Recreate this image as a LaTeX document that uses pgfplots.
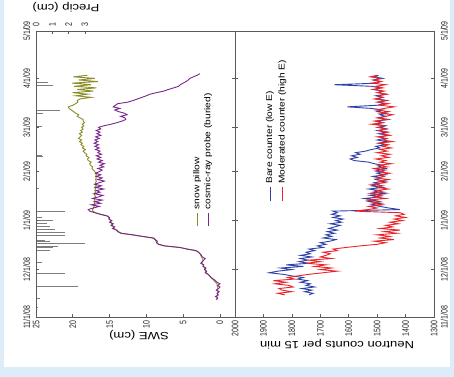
\documentclass[border=0pt]{standalone}
\usepackage{pgfplots}
\pgfplotsset{compat=1.18}
\usepackage{pgfplotstable}
\usepackage{fontspec}
\setmainfont{Liberation Sans}
\newfontfamily\tickfont[FakeStretch=0.74]{Liberation Sans}
\newfontfamily\labfont[FakeStretch=1.25]{Liberation Sans}
\newfontfamily\legfont[FakeStretch=1.2]{Liberation Sans}
\definecolor{bgblue}{RGB}{221,236,249}
\definecolor{swec}{RGB}{122,40,140}
\definecolor{pillow}{RGB}{140,140,40}
\definecolor{bare}{RGB}{45,65,170}
\definecolor{moder}{RGB}{235,35,40}
\definecolor{axgrey}{RGB}{90,90,90}
\definecolor{precipc}{RGB}{125,125,125}

\pgfplotstableread{
d cos pil
11 0.5 0.4
12 0.3 0.4
13 0.6 0.4
14 0.2 0.3
15 0.4 0.3
16 0.1 0.3
17 0.5 0.3
18 0.2 0.3
19 0.0 0.3
20 0.3 0.4
21 0.0 0.4
22 0.4 0.6
23 0.6 0.8
24 0.9 1.0
25 1.2 1.2
26 1.4 1.4
27 1.6 1.6
28 2.0 1.9
29 1.8 2.0
30 2.1 2.0
31 1.9 2.1
32 2.3 2.2
33 2.2 2.3
34 2.6 2.4
35 2.4 2.4
36 2.2 2.4
37 2.0 2.4
38 2.4 2.5
39 2.5 2.6
40 2.7 2.7
41 2.9 2.9
42 3.3 3.2
43 4.5 4.4
44 5.4 5.5
45 7.5 7.6
46 8.3 8.4
47 8.6 8.6
48 8.5 8.7
49 8.8 8.8
50 9.0 9.2
51 10.5 10.6
52 11.8 12.0
53 13.4 13.5
54 13.8 13.9
55 14.0 14.1
56 14.6 14.4
57 14.3 14.5
58 14.8 14.6
59 14.5 14.7
60 15.0 14.8
61 14.7 14.9
62 15.1 15.0
63 15.0 15.1
64 15.4 15.3
65 16.3 16.2
66 17.0 16.9
67 17.7 17.3
68 17.9 17.3
69 17.2 17.2
70 16.4 17.1
71 17.5 17.2
72 16.2 17.0
73 17.0 17.1
74 16.0 17.0
75 17.3 17.1
76 16.5 16.9
77 15.9 17.0
78 17.1 17.1
79 16.3 16.9
80 16.8 17.0
81 15.8 16.9
82 16.9 17.0
83 16.1 16.8
84 17.0 17.0
85 16.4 16.9
86 15.7 16.8
87 16.6 16.9
88 16.0 16.8
89 16.8 16.9
90 16.2 16.8
91 16.9 16.9
92 16.4 17.0
93 16.0 17.2
94 16.6 17.4
95 15.8 17.3
96 16.3 17.6
97 15.7 17.7
98 16.5 17.5
99 16.0 17.9
100 16.7 18.0
101 16.2 17.8
102 16.8 18.2
103 16.1 18.1
104 16.6 18.4
105 16.3 18.6
106 16.9 18.3
107 16.4 18.7
108 17.0 18.5
109 16.5 18.9
110 17.1 18.7
111 16.6 19.1
112 17.0 18.8
113 16.4 19.2
114 16.9 19.0
115 16.2 18.8
116 16.7 19.1
117 16.3 18.7
118 16.8 18.9
119 16.2 18.6
120 16.5 18.8
121 15.8 18.5
122 14.8 18.7
123 14.0 18.4
124 13.3 18.6
125 12.8 18.6
126 12.9 19.0
127 13.5 19.4
128 12.6 19.2
129 13.0 19.6
130 13.8 19.9
131 14.3 20.2
132 13.6 20.5
133 14.5 20.6
134 14.2 20.0
135 13.9 19.6
136 12.5 19.3
137 11.8 19.4
138 11.2 19.0
139 10.6 17.5
140 10.0 19.6
141 9.5 18.0
142 8.6 20.0
143 7.6 17.2
144 7.0 19.4
145 6.3 16.8
146 5.6 19.8
147 5.4 17.5
148 5.0 20.1
149 4.6 16.6
150 4.3 19.2
151 4.1 17.0
152 3.6 19.9
153 3.1 18.0
154 2.7 nan
}\swetable

\pgfplotstableread{
d bare mod
14 1740 1825
15 1725 1850
16 1755 1800
17 1730 1835
18 1765 1845
19 1720 1795
20 1750 1810
21 1735 1860
22 1770 1820
23 1745 1865
24 1780 1790
25 1760 1815
26 1800 1780
27 1830 1740
28 1880 1690
29 1850 1640
30 1800 1700
31 1840 1660
32 1760 1720
33 1820 1680
34 1740 1750
35 1775 1700
36 1745 1740
37 1770 1660
38 1730 1700
39 1770 1680
40 1735 1665
41 1750 1690
42 1720 1640
43 1740 1655
44 1690 1610
45 1710 1560
46 1680 1500
47 1700 1470
48 1665 1510
49 1645 1440
50 1690 1490
51 1660 1455
52 1680 1500
53 1650 1430
54 1675 1475
55 1640 1420
56 1670 1490
57 1650 1445
58 1630 1470
59 1665 1425
60 1625 1455
61 1645 1410
62 1620 1440
63 1655 1400
64 1630 1435
65 1660 1405
66 1640 1420
67 1655 1580
68 1420 1530
69 1460 1500
70 1490 1530
71 1520 1480
72 1485 1515
73 1530 1490
74 1500 1540
75 1545 1470
76 1490 1510
77 1525 1485
78 1470 1525
79 1515 1475
80 1490 1505
81 1530 1460
82 1480 1500
83 1520 1480
84 1495 1520
85 1510 1470
86 1470 1495
87 1505 1460
88 1485 1505
89 1515 1475
90 1470 1490
91 1500 1455
92 1480 1500
93 1505 1470
94 1470 1510
95 1495 1465
96 1480 1495
97 1510 1450
98 1530 1490
99 1580 1470
100 1595 1505
101 1570 1460
102 1590 1485
103 1560 1455
104 1575 1500
105 1540 1465
106 1520 1490
107 1490 1450
108 1505 1480
109 1470 1460
110 1495 1495
111 1465 1445
112 1500 1480
113 1475 1465
114 1490 1500
115 1460 1455
116 1495 1485
117 1470 1460
118 1500 1495
119 1465 1470
120 1490 1500
121 1470 1475
122 1505 1520
123 1480 1480
124 1500 1510
125 1460 1465
126 1495 1500
127 1470 1470
128 1490 1445
129 1465 1490
130 1500 1460
131 1480 1505
132 1520 1475
133 1605 1440
134 1500 1490
135 1475 1460
136 1495 1500
137 1465 1470
138 1500 1510
139 1480 1480
140 1505 1495
141 1470 1465
142 1495 1500
143 1485 1475
144 1510 1515
145 1490 1480
146 1520 1505
147 1650 1470
148 1500 1520
149 1490 1485
150 1515 1510
151 1480 1490
152 1510 1525
153 1495 1500
}\neutable

\pgfplotstableread{
d p
6.3 0.12
12.0 0.25
19.6 2.58
27.8 1.78
34.2 0.37
42.4 0.86
43.7 1.04
44.3 1.35
46.2 3.0
47.5 0.86
48.7 0.55
51.3 1.78
53.2 1.78
55.1 1.17
57.0 0.86
58.9 0.67
60.8 1.04
62.7 0.37
66.5 1.78
81.6 0.18
101.3 0.43
102.5 0.37
120.3 0.37
128.5 0.43
130.4 1.47
146.8 1.04
148.1 0.74
}\prectable

\pgfplotsset{
  panel/.style={
    scale only axis, width=199bp, height=286bp, anchor=south west,
    ymin=0, ymax=181,
    ytick={0,30,61,92,120,151,181},
    yticklabels={11/1/08,12/1/08,1/1/09,2/1/09,3/1/09,4/1/09,5/1/09},
    tick align=inside, major tick length=3bp,
    axis line style={axgrey, line width=0.6bp},
    tick style={axgrey, line width=0.6bp},
    ticklabel style={font=\tickfont\fontsize{9.5}{9.5}\selectfont, text=black!85},
    /pgf/number format/assume math mode=true,
    /pgf/number format/1000 sep={},
  }
}

\begin{document}
\begin{tikzpicture}
\path[use as bounding box] (0,0) rectangle (454bp,377bp);
\fill[bgblue] (0,0) rectangle (454bp,377bp);
\fill[white] (4bp,10bp) rectangle (450bp,377bp);

% precipitation (top axis of left panel)
\begin{axis}[panel, at={(36bp,60bp)},
  xmin=0, xmax=12.21,
  axis x line*=top, axis y line=none,
  xtick={0,1,2,3},
  xticklabel style={rotate=90, anchor=west, inner sep=4bp}]
\addplot[xcomb, precipc, line width=1bp] table[x=p, y=d] {\prectable};
\end{axis}

% SWE panel
\begin{axis}[panel, at={(36bp,60bp)},
  x dir=reverse, xmin=-2.05, xmax=25,
  xtick={0,5,10,15,20,25},
  xtick pos=bottom, ytick pos=both, yticklabel pos=left,
  xticklabel style={rotate=90, anchor=east, inner sep=3.5bp},
  yticklabel style={rotate=90, anchor=south, inner sep=5.5bp}]
\addplot[pillow, line width=0.9bp] table[x=pil, y=d] {\swetable};
\addplot[swec, line width=0.9bp] table[x=cos, y=d] {\swetable};
\addplot[pillow, line width=0.9bp, forget plot] coordinates {(3.1,57.5) (3.1,66.0)};
\addplot[swec, line width=0.9bp, forget plot] coordinates {(1.6,57.5) (1.6,66.0)};
\node[rotate=90, anchor=west, inner sep=0pt, font=\legfont\fontsize{8.5}{9}\selectfont] at (axis cs:3.1,68.0) {snow pillow};
\node[rotate=90, anchor=west, inner sep=0pt, font=\legfont\fontsize{8.5}{9}\selectfont] at (axis cs:1.6,68.0) {cosmic-ray probe (buried)};
\end{axis}

% Neutron panel
\begin{axis}[panel, at={(235bp,60bp)},
  x dir=reverse, xmin=1300, xmax=2000,
  xtick={1300,1400,1500,1600,1700,1800,1900,2000},
  xtick pos=bottom, ytick pos=both, yticklabel pos=right,
  xticklabel style={rotate=90, anchor=east, inner sep=3.5bp},
  yticklabel style={rotate=90, anchor=north, inner sep=6.5bp}]
\addplot[bare, line width=0.9bp] table[x=bare, y=d] {\neutable};
\addplot[moder, line width=0.9bp] table[x=mod, y=d] {\neutable};
\addplot[bare, line width=0.9bp, forget plot] coordinates {(1877,73.4) (1877,82.3)};
\addplot[moder, line width=0.9bp, forget plot] coordinates {(1833,73.4) (1833,82.3)};
\node[rotate=90, anchor=west, inner sep=0pt, font=\legfont\fontsize{8.5}{9}\selectfont] at (axis cs:1877,84.2) {Bare counter (low E)};
\node[rotate=90, anchor=west, inner sep=0pt, font=\legfont\fontsize{8.5}{9}\selectfont] at (axis cs:1833,84.2) {Moderated counter (high E)};
\end{axis}

\node[rotate=180, font=\labfont\fontsize{10.5}{12}\selectfont] at (139bp,42bp) {SWE (cm)};
\node[rotate=180, font=\labfont\fontsize{10.5}{12}\selectfont] at (337bp,33bp) {Neutron counts per 15 min};
\node[rotate=180, font=\labfont\fontsize{10.5}{12}\selectfont] at (66bp,370bp) {Precip (cm)};
\end{tikzpicture}
\end{document}
